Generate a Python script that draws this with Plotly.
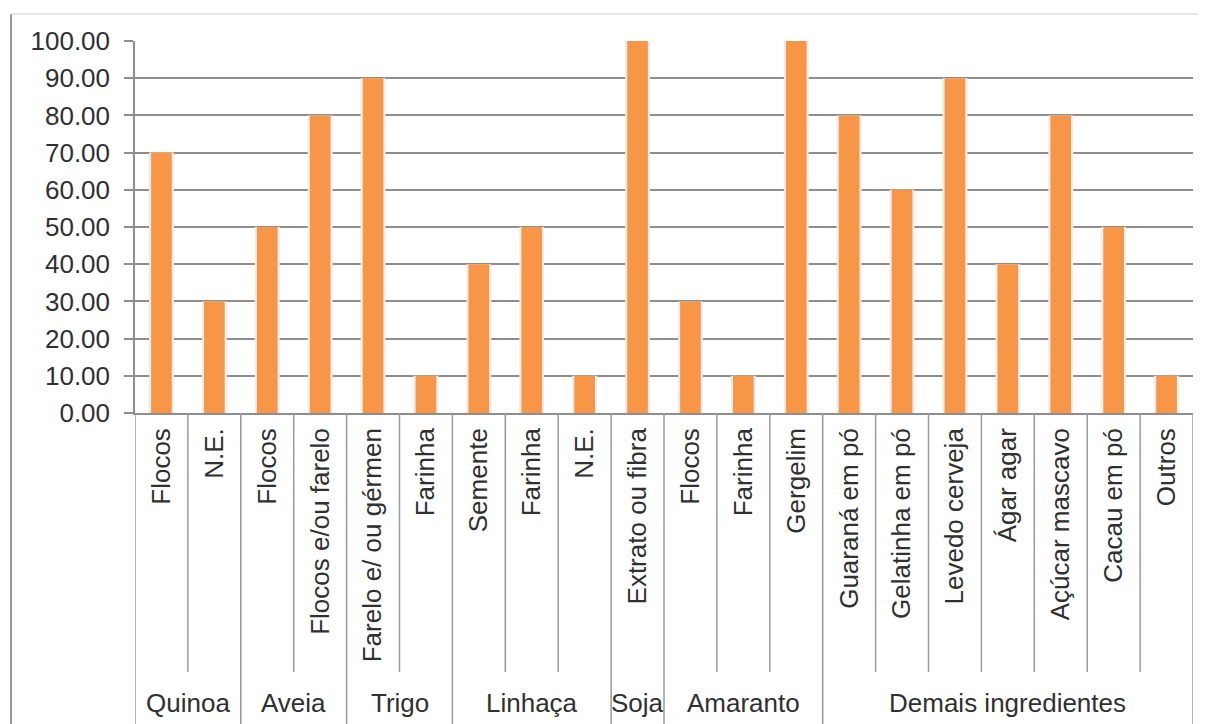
import plotly.graph_objects as go

groups = ["Quinoa", "Quinoa", "Aveia", "Aveia", "Trigo", "Trigo",
          "Linhaça", "Linhaça", "Linhaça", "Soja",
          "Amaranto", "Amaranto", "Amaranto",
          "Demais ingredientes", "Demais ingredientes", "Demais ingredientes",
          "Demais ingredientes", "Demais ingredientes", "Demais ingredientes",
          "Demais ingredientes"]
items = ["Flocos", "N.E.", "Flocos", "Flocos e/ou farelo", "Farelo e/ ou gérmen",
         "Farinha", "Semente", "Farinha", "N.E.", "Extrato ou fibra",
         "Flocos", "Farinha", "Gergelim", "Guaraná em pó", "Gelatinha em pó",
         "Levedo cerveja", "Ágar agar", "Açúcar mascavo", "Cacau em pó", "Outros"]
values = [70, 30, 50, 80, 90, 10, 40, 50, 10, 100, 30, 10, 100,
          80, 60, 90, 40, 80, 50, 10]
y_ticks = [0, 10, 20, 30, 40, 50, 60, 70, 80, 90, 100]

FONT = "Liberation Sans, Arial, sans-serif"
FS = 26
TXT = "#303030"
GRID = "#8e8e8e"
DIV = "#9a9a9a"

# figure geometry (page body has an 8px margin)
W, H = 1198, 716
ML, MR, MT, MB = 127, 13, 33, 311
PW = W - ML - MR
PH = H - MT - MB

xs = list(range(len(items)))

fig = go.Figure()
# soft shadow / halo behind bars
fig.add_trace(go.Bar(x=xs, y=values, width=0.47, marker=dict(color="#ececec", line_width=0),
                     hoverinfo="skip", showlegend=False))
fig.add_trace(go.Bar(x=xs, y=values, width=0.39, marker=dict(color="#F79646", line_width=0),
                     showlegend=False))

shapes = []
n = len(items)
for i in range(n + 1):
    xb = i - 0.5
    is_group = (i == 0 or i == n or groups[i] != groups[i - 1])
    shapes.append(dict(type="line", xref="x", yref="paper", x0=xb, x1=xb,
                       y0=0, y1=-0.90 if is_group else -(672 - 8 - (H - MB)) / PH,
                       line=dict(color=DIV, width=1.5), layer="above"))

annotations = []
start = 0
for i in range(1, n + 1):
    if i == n or groups[i] != groups[start]:
        annotations.append(dict(x=(start + i - 1) / 2, y=-(703 - 8 - (H - MB)) / PH,
                                xref="x", yref="paper",
                                text=groups[start], showarrow=False,
                                font=dict(family=FONT, size=FS, color=TXT),
                                xanchor="center", yanchor="middle"))
        start = i

# outer frame
fx = (3 - ML) / PW
fy = ((H - MB) - 6) / PH
shapes.append(dict(type="line", xref="paper", yref="paper",
                   x0=fx, x1=fx, y0=fy, y1=-1.0,
                   line=dict(color="#999999", width=2)))
shapes.append(dict(type="line", xref="paper", yref="paper",
                   x0=fx, x1=(W - ML) / PW, y0=fy, y1=fy,
                   line=dict(color="#dedede", width=1.5)))

fig.update_layout(
    width=W, height=H,
    margin=dict(l=ML, r=MR, t=MT, b=MB, autoexpand=False),
    paper_bgcolor="white", plot_bgcolor="white",
    barmode="overlay",
    shapes=shapes, annotations=annotations,
    font=dict(family=FONT, size=FS, color=TXT),
)
fig.update_xaxes(
    range=[-0.5, n - 0.5],
    tickmode="array", tickvals=xs, ticktext=items,
    tickangle=-90, ticks="", ticklabelstandoff=3,
    tickfont=dict(family=FONT, size=FS, color=TXT),
    showgrid=False, showline=True, linecolor=GRID, linewidth=1.5,
    zeroline=False, automargin=False,
)
fig.update_yaxes(
    range=[0, 100], tickmode="array", tickvals=y_ticks,
    ticktext=[f"{v:.2f}" for v in y_ticks],
    ticks="outside", ticklen=9, tickcolor=GRID, tickwidth=1.5,
    ticklabelstandoff=9,
    tickfont=dict(family=FONT, size=FS, color=TXT),
    showgrid=True, gridcolor=GRID, gridwidth=1.5,
    showline=True, linecolor=GRID, linewidth=1.5, zeroline=False,
    automargin=False,
)

fig.write_html("out.html")
